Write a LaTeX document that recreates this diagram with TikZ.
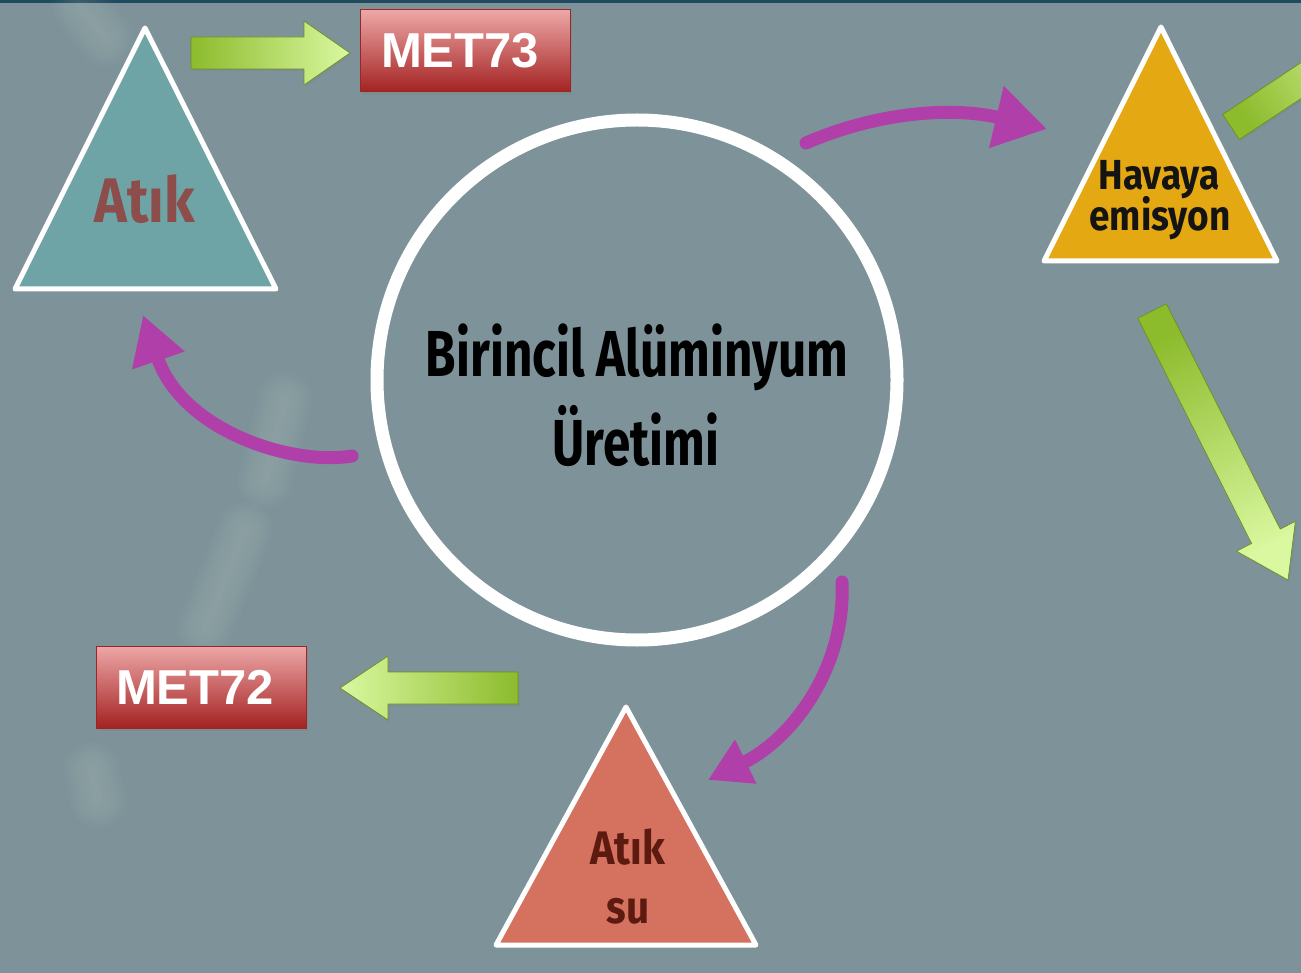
\documentclass[tikz,border=0pt]{standalone}
\usepackage{fontspec}
\setmainfont{Liberation Sans}
\newfontfamily\condfont[FakeStretch=0.76]{Fira Sans}
\newfontfamily\trifont[FakeStretch=0.88]{Fira Sans}
\usetikzlibrary{arrows.meta,calc,shadows}

\definecolor{bgblue}{HTML}{7D9399}
\definecolor{topbar}{HTML}{1F4A5F}
\definecolor{tealtri}{HTML}{6FA4A6}
\definecolor{ambertri}{HTML}{E3A812}
\definecolor{salmontri}{HTML}{D4725F}
\definecolor{magentaflow}{HTML}{B03FA9}
\definecolor{greendark}{HTML}{8CBB2C}
\definecolor{greenlight}{HTML}{DAF8A0}
\definecolor{greenedge}{HTML}{6E8F22}
\definecolor{boxtop}{HTML}{EDA7A7}
\definecolor{boxbottom}{HTML}{A42222}
\definecolor{boxedge}{HTML}{9A2626}
\definecolor{atiktext}{HTML}{8C4D4B}
\definecolor{sutext}{HTML}{5C1A10}

\tikzset{
  tri/.style={draw=white, line width=5pt, line join=round},
  flow/.style={draw=magentaflow, line width=13pt, line cap=round},
  greenblock/.style={top color=greenlight, bottom color=greendark,
    draw=greenedge, line width=0.7pt, line join=round,
    drop shadow={opacity=0.25, shadow xshift=1.5pt, shadow yshift=-2pt}},
  metbox/.style={rectangle, minimum width=210pt, minimum height=82pt,
    inner sep=0pt, top color=boxtop, bottom color=boxbottom,
    draw=boxedge, line width=1pt, text=white,
    font=\fontsize{49}{58}\selectfont\bfseries,
    drop shadow={opacity=0.35, shadow xshift=2pt, shadow yshift=-3pt}},
  coretext/.style={font=\condfont\bfseries\fontsize{65}{70}\selectfont,
    text=black, inner sep=0pt, anchor=base},
  tritext/.style={font=\trifont\bfseries, inner sep=0pt, anchor=base},
  haze/.style={draw=white, line cap=round, opacity=0.018}
}

% block arrow from tail #1 to tip #2: shaft half width #3,
% head half width #4, head length #5 (all in pt), shading angle #6
\newcommand\blockarrow[6]{%
  \coordinate (ba-back) at ($(#2)!#5pt!(#1)$);
  \path[greenblock, shading angle=#6]
    ($(#1)!#3pt!90:(#2)$) -- ($(ba-back)!#3pt!90:(#2)$) --
    ($(ba-back)!#4pt!90:(#2)$) -- (#2) --
    ($(ba-back)!#4pt!-90:(#2)$) -- ($(ba-back)!#3pt!-90:(#2)$) --
    ($(#1)!#3pt!-90:(#2)$) -- cycle;
}

% soft smoke streak
\newcommand\smoke[2]{%
  \foreach \w in {56,48,40,32,24,16,8} {\draw[haze, line width=\w pt] #1 -- #2;}
}

\begin{document}
\begin{tikzpicture}[x=1pt,y=-1pt]
  \useasboundingbox (0,0) rectangle (1301,973);
  \clip (0,0) rectangle (1301,973);

  % background and top rule
  \fill[bgblue] (0,0) rectangle (1301,973);
  \fill[topbar] (0,0) rectangle (1301,3);

  % faint smoke in the background
  \smoke{(205,628)}{(245,530)}
  \smoke{(265,480)}{(285,400)}
  \smoke{(80,5)}{(105,38)}
  \smoke{(92,770)}{(98,800)}

  % central process circle
  \node[circle, draw=white, line width=13pt, minimum size=520pt, inner sep=0pt]
    (core) at (637,380) {};
  \node[coretext] (coreA) at (637,377) {Birincil Alüminyum};
  \node[coretext] (coreB) at (636,465) {Üretimi};

  % output triangles
  \draw[tri, fill=tealtri] (145,28) -- (276,289) -- (15,289) -- cycle;
  \node[tritext, text=atiktext, font=\trifont\bfseries\fontsize{63}{70}\selectfont]
    (atik) at (145,223) {Atık};

  \draw[tri, fill=ambertri] (1161,27) -- (1277,261) -- (1044,261) -- cycle;
  \node[tritext, text=black!92, font=\trifont\bfseries\fontsize{42}{48}\selectfont]
    (hava) at (1159,190) {Havaya};
  \node[tritext, text=black!92, font=\trifont\bfseries\fontsize{42}{48}\selectfont]
    (emis) at (1160,231) {emisyon};

  \draw[tri, fill=salmontri] (626,707) -- (756,945) -- (496,945) -- cycle;
  \node[tritext, text=sutext, font=\trifont\bfseries\fontsize{47}{52}\selectfont]
    (atiksu) at (628,864) {Atık};
  \node[tritext, text=sutext, font=\trifont\bfseries\fontsize{46}{52}\selectfont]
    (su) at (628,923) {su};

  % flows leaving the circle
  \coordinate (fTopS) at (806,143);
  \coordinate (fTopE) at (1047,129);
  \coordinate (fLeftS) at (352,456);
  \coordinate (fLeftE) at (143,315);
  \coordinate (fBotS) at (842,582);
  \coordinate (fBotE) at (708,780);
  \draw[flow, -{Triangle[length=52pt,width=60pt]}]
    (fTopS) .. controls (875,113) and (950,106) .. (fTopE);
  \draw[flow, -{Triangle[length=48pt,width=52pt]}]
    (fLeftS) .. controls (290,466) and (182,430) .. (fLeftE);
  \draw[flow, -{Triangle[length=42pt,width=46pt]}]
    (fBotS) .. controls (846,670) and (790,740) .. (fBotE);

  % indicator boxes
  \node[metbox] (met73) at (465,51) {\hspace*{-10pt}MET73};
  \node[metbox] (met72) at (201,687) {\hspace*{-12pt}MET72};

  % green block arrows
  \coordinate (g1t) at (191,53);   \coordinate (g1h) at (350,53);
  \blockarrow{g1t}{g1h}{16}{32}{46}{-90}
  \coordinate (g2t) at (518,688);  \coordinate (g2h) at (340,688);
  \blockarrow{g2t}{g2h}{16}{32}{48}{90}
  \coordinate (g3t) at (1152,311); \coordinate (g3h) at (1288,580);
  \blockarrow{g3t}{g3h}{16}{33}{49}{-153}
  \coordinate (g4t) at (1231,127); \coordinate (g4h) at (1400,15);
  \blockarrow{g4t}{g4h}{15}{32}{48}{-56}
\end{tikzpicture}
\end{document}
